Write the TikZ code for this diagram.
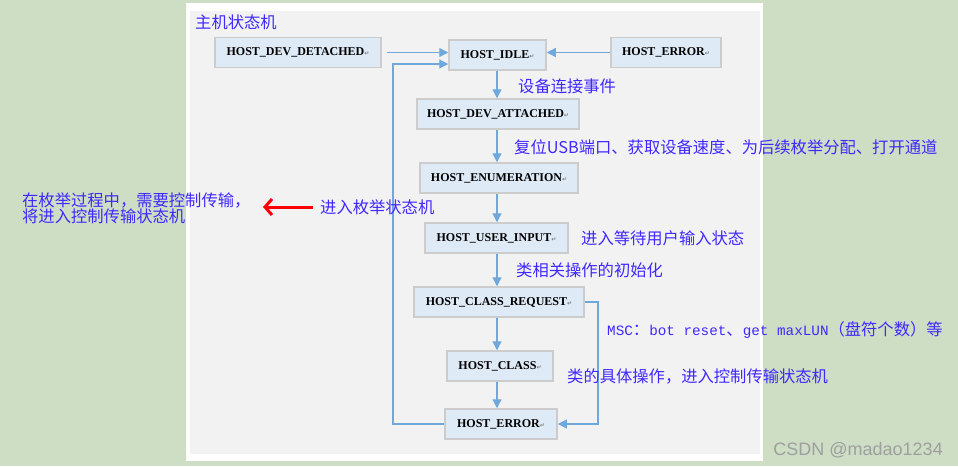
\documentclass[tikz,border=0pt]{standalone}
\usepackage{fontspec}
\usepackage{xcolor}
\setmainfont{Liberation Serif}
\newfontfamily\cjk{Noto Sans CJK SC}
\newfontfamily\monofont{Liberation Mono}
\newfontfamily\symfont{DejaVu Sans}
\newfontfamily\wmfont{Liberation Sans}
\usetikzlibrary{arrows.meta, positioning}

\definecolor{bggreen}{RGB}{205,222,196}
\definecolor{panelgray}{RGB}{242,242,242}
\definecolor{boxfill}{RGB}{222,234,246}
\definecolor{boxline}{RGB}{204,204,204}
\definecolor{linkblue}{RGB}{111,168,220}
\definecolor{noteblue}{RGB}{64,40,255}

\newcommand{\ret}{{\symfont\fontsize{6}{6}\selectfont\color{gray}↵}}
\newcommand{\lat}[1]{{\monofont\fontsize{14.3}{16}\selectfont #1}}

\tikzset{
    state/.style={rectangle, draw=boxline, line width=1.5pt, fill=boxfill,
        minimum height=30pt, inner sep=2pt,
        font=\fontsize{12}{13}\selectfont\bfseries},
    note/.style={anchor=west, inner sep=0pt, text=noteblue,
        font=\cjk\fontsize{16.3}{16}\selectfont},
    link/.style={draw=linkblue, line width=1.2pt,
        -{Triangle[length=9pt,width=9pt]}},
    redlink/.style={draw=red, line width=3pt,
        -{Straight Barb[length=7pt,width=16pt]}}
}

\begin{document}
\begin{tikzpicture}[x=1pt, y=-1pt]
        \useasboundingbox (0,0) rectangle (958,466);
        \fill[bggreen] (0,0) rectangle (958,466);
        \fill[white] (186,3) rectangle (763,461);
        \fill[panelgray] (190,11) rectangle (760,454);

        \node[note] (title) at (195,22) {主机状态机};

        \node[state, minimum width=166pt] (detached) at (298,52.5) {HOST\_DEV\_DETACHED\ret};
        \node[state, minimum width=97pt] (idle) at (497.5,55) {HOST\_IDLE\ret};
        \node[state, minimum width=110pt] (errtop) at (666,52.5) {HOST\_ERROR\ret};
        \node[state, minimum width=162pt] (attached) at (498,114) {HOST\_DEV\_ATTACHED\ret};
        \node[state, minimum width=158pt] (enum) at (499,178) {HOST\_ENUMERATION\ret};
        \node[state, minimum width=143pt] (userin) at (496.5,238) {HOST\_USER\_INPUT\ret};
        \node[state, minimum width=170pt] (classreq) at (499,302) {HOST\_CLASS\_REQUEST\ret};
        \node[state, minimum width=106pt] (class) at (500,366) {HOST\_CLASS\ret};
        \node[state, minimum width=112pt] (errbot) at (501,424) {HOST\_ERROR\ret};

        \coordinate (loopl) at (393,64);
        \coordinate (loopr) at (598,302);

        \draw[link, shorten <=5pt] (detached.east) -- (idle.west |- detached.east);
        \draw[link] (errtop.west) -- (idle.east |- errtop.west);
        \draw[link] (errbot.west) -| (loopl) -- (idle.west |- loopl);
        \draw[link] (classreq.east) -- (loopr) |- (errbot.east);

        \draw[link] (idle.south -| 497,0) -- (attached.north -| 497,0);
        \draw[link] (attached.south -| 497,0) -- (enum.north -| 497,0);
        \draw[link] (enum.south -| 497,0) -- (userin.north -| 497,0);
        \draw[link] (userin.south -| 497,0) -- (classreq.north -| 497,0);
        \draw[link] (classreq.south -| 497,0) -- (class.north -| 497,0);
        \draw[link] (class.south -| 497,0) -- (errbot.north -| 497,0);

        \node[note] (connect) at (518,86) {设备连接事件};
        \node[note] (reset) at (514,147) {复位USB端口、获取设备速度、为后续枚举分配、打开通道};
        \node[note] (enter) at (320,207) {进入枚举状态机};
        \node[note, align=left] (ctrl) at (22,208) {在枚举过程中，需要控制传输，\\将进入控制传输状态机};
        \node[note] (wait) at (581,238) {进入等待用户输入状态};
        \node[note] (init) at (516,270) {类相关操作的初始化};
        \node[note] (msc) at (607,330) {\lat{MSC}：\lat{bot reset}、\lat{get maxLUN}（盘符个数）等};
        \node[note] (work) at (567,376) {类的具体操作，进入控制传输状态机};

        \coordinate (redend) at (263,207);
        \draw[redlink, shorten <=7pt] (enter.west) -- (redend);

        \node[anchor=east, inner sep=0pt, text=gray!75, font=\wmfont\fontsize{18}{18}\selectfont] (mark) at (943,450) {CSDN @madao1234};
    \end{tikzpicture}
\end{document}
